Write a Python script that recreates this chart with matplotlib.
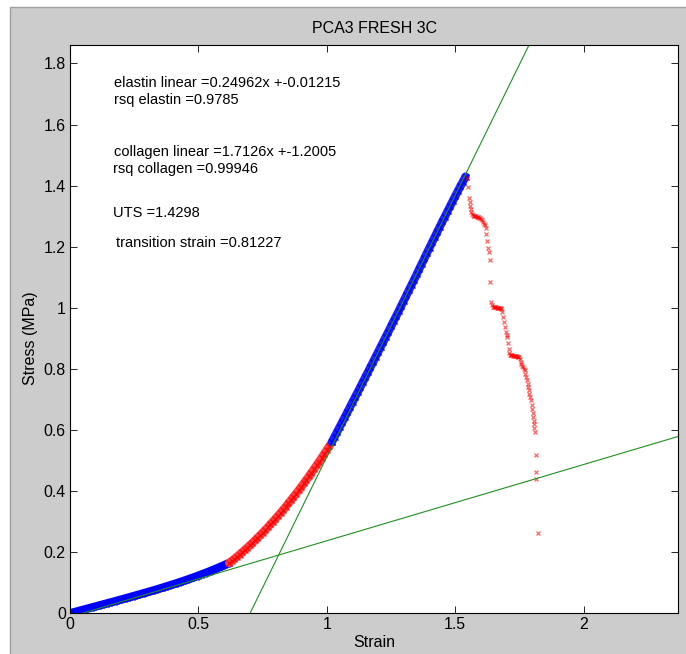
import matplotlib
matplotlib.use("Agg")
import matplotlib.pyplot as plt
from matplotlib.patches import Rectangle

plt.rcParams['font.family'] = ['Liberation Sans', 'DejaVu Sans']

# --- data ---
elastin_strain = [0.00, 0.01, 0.02, 0.03, 0.04, 0.05, 0.06, 0.07, 0.08, 0.09,
                  0.10, 0.11, 0.12, 0.13, 0.14, 0.15, 0.16, 0.17, 0.18, 0.19,
                  0.20, 0.21, 0.22, 0.23, 0.24, 0.25, 0.26, 0.27, 0.28, 0.29,
                  0.30, 0.31, 0.32, 0.33, 0.34, 0.35, 0.36, 0.37, 0.38, 0.39,
                  0.40, 0.41, 0.42, 0.43, 0.44, 0.45, 0.46, 0.47, 0.48, 0.49,
                  0.50, 0.51, 0.52, 0.53, 0.54, 0.55, 0.56, 0.57, 0.58, 0.59,
                  0.60, 0.61, 0.62]
elastin_stress = [0.0000, 0.0023, 0.0045, 0.0068, 0.0090, 0.0113, 0.0135, 0.0158, 0.0180, 0.0203,
                  0.0225, 0.0248, 0.0270, 0.0293, 0.0316, 0.0338, 0.0361, 0.0384, 0.0407, 0.0430,
                  0.0453, 0.0476, 0.0499, 0.0522, 0.0546, 0.0569, 0.0593, 0.0617, 0.0641, 0.0665,
                  0.0689, 0.0714, 0.0738, 0.0763, 0.0788, 0.0813, 0.0839, 0.0865, 0.0891, 0.0918,
                  0.0944, 0.0971, 0.0999, 0.1027, 0.1055, 0.1083, 0.1112, 0.1142, 0.1172, 0.1202,
                  0.1233, 0.1265, 0.1297, 0.1329, 0.1362, 0.1396, 0.1430, 0.1465, 0.1501, 0.1537,
                  0.1574, 0.1612, 0.1651]

transition_strain = [0.62, 0.63, 0.64, 0.65, 0.66, 0.67, 0.68, 0.69, 0.70, 0.71, 0.72,
                     0.73, 0.74, 0.75, 0.76, 0.77, 0.78, 0.79, 0.80, 0.81, 0.82,
                     0.83, 0.84, 0.85, 0.86, 0.87, 0.88, 0.89, 0.90, 0.91, 0.92,
                     0.93, 0.94, 0.95, 0.96, 0.97, 0.98, 0.99, 1.00, 1.01, 1.02]
transition_stress = [0.1651, 0.1716, 0.1783, 0.1853, 0.1924, 0.1996, 0.2071, 0.2147, 0.2224, 0.2304, 0.2385,
                     0.2468, 0.2552, 0.2639, 0.2727, 0.2816, 0.2908, 0.3001, 0.3095, 0.3192, 0.3290,
                     0.3390, 0.3491, 0.3595, 0.3700, 0.3806, 0.3915, 0.4025, 0.4136, 0.4250, 0.4365,
                     0.4482, 0.4600, 0.4721, 0.4843, 0.4966, 0.5092, 0.5219, 0.5347, 0.5478, 0.5610]

collagen_strain = [1.02, 1.03, 1.04, 1.05, 1.06, 1.07, 1.08, 1.09, 1.10, 1.11, 1.12,
                   1.13, 1.14, 1.15, 1.16, 1.17, 1.18, 1.19, 1.20, 1.21, 1.22,
                   1.23, 1.24, 1.25, 1.26, 1.27, 1.28, 1.29, 1.30, 1.31, 1.32,
                   1.33, 1.34, 1.35, 1.36, 1.37, 1.38, 1.39, 1.40, 1.41, 1.42,
                   1.43, 1.44, 1.45, 1.46, 1.47, 1.48, 1.49, 1.50, 1.51, 1.52,
                   1.53, 1.54]
collagen_stress = [0.5610, 0.5775, 0.5937, 0.6098, 0.6259, 0.6420, 0.6582, 0.6748, 0.6914, 0.7075, 0.7237,
                   0.7398, 0.7569, 0.7730, 0.7892, 0.8063, 0.8224, 0.8395, 0.8557, 0.8728, 0.8889,
                   0.9060, 0.9222, 0.9393, 0.9564, 0.9726, 0.9897, 1.0068, 1.0239, 1.0411, 1.0582,
                   1.0753, 1.0924, 1.1096, 1.1277, 1.1448, 1.1619, 1.1801, 1.1972, 1.2143, 1.2314,
                   1.2486, 1.2657, 1.2828, 1.2989, 1.3161, 1.3322, 1.3493, 1.3654, 1.3816, 1.3977,
                   1.4128, 1.4298]

failure_strain = [1.545, 1.550, 1.554, 1.556, 1.558, 1.561, 1.563, 1.566, 1.569, 1.572,
                  1.575, 1.578, 1.581, 1.584, 1.587, 1.590, 1.593, 1.596, 1.600, 1.604,
                  1.608, 1.612, 1.616, 1.619, 1.621, 1.625, 1.629, 1.630, 1.634, 1.637,
                  1.641, 1.644, 1.647, 1.650, 1.653, 1.656, 1.659, 1.662, 1.665, 1.668,
                  1.671, 1.674, 1.677, 1.680, 1.683, 1.686, 1.689, 1.693, 1.697, 1.700,
                  1.703, 1.706, 1.709, 1.711, 1.713, 1.716, 1.719, 1.722, 1.725, 1.728,
                  1.731, 1.734, 1.737, 1.740, 1.743, 1.746, 1.749, 1.752, 1.755, 1.757,
                  1.760, 1.764, 1.767, 1.770, 1.773, 1.776, 1.780, 1.782, 1.784, 1.787,
                  1.789, 1.791, 1.794, 1.797, 1.800, 1.802, 1.804, 1.806, 1.807, 1.808,
                  1.809, 1.813, 1.816, 1.816, 1.822]
failure_stress = [1.426, 1.396, 1.361, 1.345, 1.333, 1.322, 1.313, 1.306, 1.303, 1.301,
                  1.300, 1.301, 1.299, 1.297, 1.296, 1.297, 1.295, 1.293, 1.292, 1.287,
                  1.281, 1.276, 1.270, 1.262, 1.241, 1.219, 1.197, 1.183, 1.156, 1.085,
                  1.019, 1.008, 1.003, 1.004, 1.003, 1.002, 1.003, 1.001, 1.000, 1.001,
                  0.999, 0.999, 0.998, 0.996, 0.985, 0.970, 0.955, 0.937, 0.922, 0.912,
                  0.904, 0.886, 0.866, 0.852, 0.846, 0.845, 0.844, 0.845, 0.843, 0.843,
                  0.842, 0.842, 0.841, 0.842, 0.840, 0.839, 0.838, 0.834, 0.824, 0.817,
                  0.811, 0.805, 0.800, 0.795, 0.783, 0.774, 0.763, 0.752, 0.741, 0.730,
                  0.719, 0.708, 0.697, 0.683, 0.670, 0.656, 0.643, 0.630, 0.619, 0.605,
                  0.592, 0.517, 0.461, 0.439, 0.263]

# fit results printed on the chart
elastin_slope, elastin_int, rsq_elastin = 0.24962, -0.01215, 0.9785
collagen_slope, collagen_int, rsq_collagen = 1.7126, -1.2005, 0.99946
uts = 1.4298
transition_strain_value = 0.81227

xticks = [0, 0.5, 1, 1.5, 2]
xtick_labels = ['0', '0.5', '1', '1.5', '2']
yticks = [0, 0.2, 0.4, 0.6, 0.8, 1.0, 1.2, 1.4, 1.6, 1.8]
ytick_labels = ['0', '0.2', '0.4', '0.6', '0.8', '1', '1.2', '1.4', '1.6', '1.8']

# --- figure ---
W, H = 686, 654
fig = plt.figure(figsize=(W / 100, H / 100), dpi=100)
fig.patch.set_facecolor('white')
fig.add_artist(Rectangle((10 / W, -0.05), 1.1, (H - 7) / H + 0.05, transform=fig.transFigure,
                         facecolor='#cccccc', edgecolor='#a0a0a0', lw=1, zorder=-5))

ax = fig.add_axes([70 / W, (H - 613.3) / H, (678.3 - 70) / W, (613.3 - 45.5) / H])
ax.set_facecolor('white')

xmax = 1.3 * failure_strain[-1]
ymax = 1.3 * uts

# the dense measured points merge into a solid band: draw band + marker texture
band = dict(lw=6, solid_capstyle='round', solid_joinstyle='round')
mk = dict(linestyle='none', marker='x', markersize=5, markeredgewidth=1.0)
ax.plot(elastin_strain, elastin_stress, color='#0000ff', **band)
ax.plot(elastin_strain, elastin_stress, color='#0000ff', **mk)
ax.plot(transition_strain, transition_stress, color='#ff4040', **band)
ax.plot(transition_strain, transition_stress, color='#ff0000', alpha=0.8, **mk)
ax.plot(collagen_strain, collagen_stress, color='#2020ff', **band)
ax.plot(collagen_strain, collagen_stress, color='#0000ff', **mk)
ax.plot(failure_strain, failure_stress, color='#ff0000', alpha=0.6,
        linestyle='none', marker='x', markersize=3.4, markeredgewidth=0.9)

# fitted lines across the full strain range
line_x = [0, xmax]
green = '#1f8f1f'
ax.plot(line_x, [elastin_slope * v + elastin_int for v in line_x], color=green, lw=0.8)
ax.plot(line_x, [collagen_slope * v + collagen_int for v in line_x], color=green, lw=0.8)

ax.set_xlim(0, xmax)
ax.set_ylim(0, ymax)
ax.set_xticks(xticks)
ax.set_xticklabels(xtick_labels)
ax.set_yticks(yticks)
ax.set_yticklabels(ytick_labels)
ax.tick_params(direction='in', top=True, right=True, length=5, width=0.6,
               labelsize=11.4, pad=3)
for s in ax.spines.values():
    s.set_linewidth(0.8)

ax.set_title('PCA3 FRESH 3C', fontsize=11.5, pad=9)
ax.set_xlabel('Strain', fontsize=11.5, labelpad=2)
ax.set_ylabel('Stress (MPa)', fontsize=11.5)
ax.yaxis.set_label_coords(-0.052, 0.485)

tk = dict(fontsize=10.5, ha='left', va='center')
ax.text(0.171, 1.736, f'elastin linear ={elastin_slope:g}x +{elastin_int:g}', **tk)
ax.text(0.173, 1.679, f'rsq elastin ={rsq_elastin:g}', **tk)
ax.text(0.173, 1.510, f'collagen linear ={collagen_slope:g}x +{collagen_int:g}', **tk)
ax.text(0.166, 1.453, f'rsq collagen ={rsq_collagen:g}', **tk)
ax.text(0.168, 1.310, f'UTS ={uts:g}', **tk)
ax.text(0.178, 1.212, f'transition strain ={transition_strain_value:g}', **tk)

fig.savefig('out.png', dpi=100)
